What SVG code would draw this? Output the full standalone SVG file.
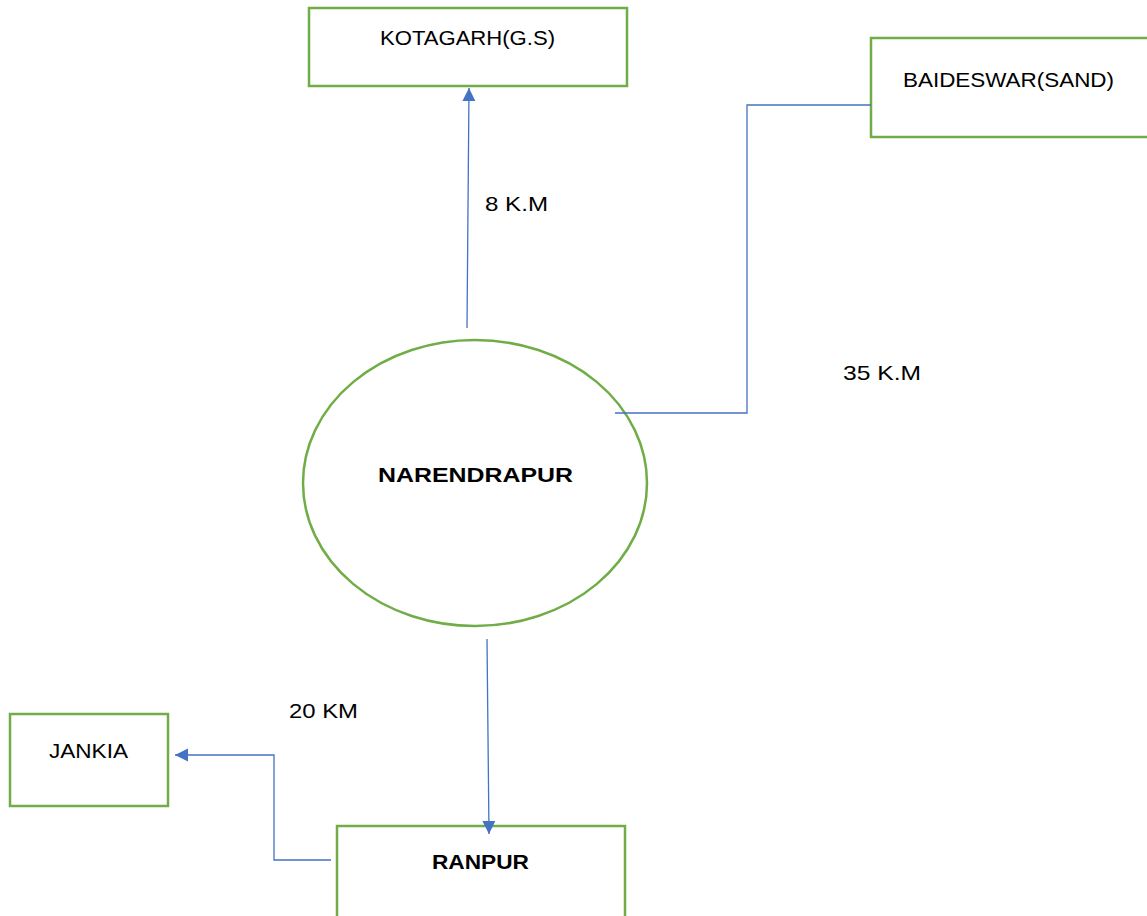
<svg xmlns="http://www.w3.org/2000/svg" width="1147" height="916" viewBox="0 0 1147 916">
<style>
.box{fill:#fff;stroke:#70AD47;stroke-width:2.5}
.conn{fill:none;stroke:#4472C4;stroke-width:1.3}
.t{font-family:"Liberation Sans",Arial,sans-serif;font-size:21px;fill:#000}
.b{font-weight:bold}
</style>
<defs>
<marker id="arr" viewBox="0 0 10 10" refX="10" refY="5" markerWidth="13" markerHeight="14" markerUnits="userSpaceOnUse" orient="auto">
<path d="M0,0 L10,5 L0,10 z" fill="#4472C4"/>
</marker>
</defs>
<rect width="1147" height="916" fill="#fff"/>
<g id="kotagarh">
<rect class="box" x="309" y="8" width="318" height="78"/>
<text class="t" x="380" y="45" textLength="175" lengthAdjust="spacingAndGlyphs">KOTAGARH(G.S)</text>
</g>
<g id="baideswar">
<rect class="box" x="871" y="38" width="280" height="99"/>
<text class="t" x="903" y="87" textLength="211" lengthAdjust="spacingAndGlyphs">BAIDESWAR(SAND)</text>
</g>
<g id="narendrapur">
<ellipse class="box" cx="475" cy="483" rx="172" ry="143"/>
<text class="t b" x="378" y="482" textLength="195" lengthAdjust="spacingAndGlyphs">NARENDRAPUR</text>
</g>
<g id="ranpur">
<rect class="box" x="337" y="826" width="288" height="100"/>
<text class="t b" x="432" y="869" textLength="97" lengthAdjust="spacingAndGlyphs">RANPUR</text>
</g>
<g id="jankia">
<rect class="box" x="10" y="714" width="158" height="92"/>
<text class="t" x="49" y="758" textLength="79" lengthAdjust="spacingAndGlyphs">JANKIA</text>
</g>
<g id="connectors">
<line class="conn" x1="467" y1="328" x2="469" y2="88" marker-end="url(#arr)"/>
<polyline class="conn" points="615,413 747,413 747,105 871,105"/>
<line class="conn" x1="487" y1="639" x2="489" y2="834" marker-end="url(#arr)"/>
<polyline class="conn" points="331,860 274,860 274,755 175,755" marker-end="url(#arr)"/>
</g>
<g id="labels">
<text class="t" x="485" y="211" textLength="63" lengthAdjust="spacingAndGlyphs">8 K.M</text>
<text class="t" x="843" y="380" textLength="78" lengthAdjust="spacingAndGlyphs">35 K.M</text>
<text class="t" x="289" y="718" textLength="69" lengthAdjust="spacingAndGlyphs">20 KM</text>
</g>
</svg>
